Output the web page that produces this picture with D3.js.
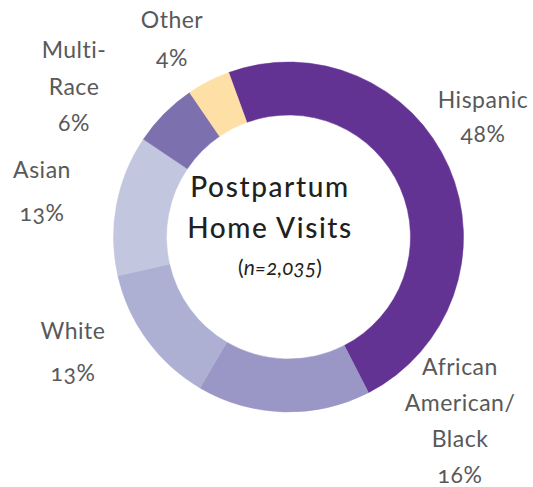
<!DOCTYPE html>
<html>
<head>
<meta charset="utf-8">
<script src="https://cdn.jsdelivr.net/npm/d3@7"></script>
<style>
  body { margin: 0; background: #fff; }
  .lbl { font-family: Lato, sans-serif; font-size: 23px; fill: #595959; font-variant-numeric: oldstyle-nums; letter-spacing: 0.5px; }
  .title { font-family: Lato, sans-serif; font-size: 28px; font-weight: 500; fill: #231f20; letter-spacing: 1.6px; }
  .sub { font-family: Lato, sans-serif; font-size: 21px; fill: #231f20; font-variant-numeric: oldstyle-nums; }
</style>
</head>
<body>
<div id="chart"></div>
<script>
// share of postpartum home visits by race / ethnicity

var categories = ['Hispanic', 'African American/Black', 'White', 'Asian', 'Multi-Race', 'Other']
var values = [48, 16, 13, 13, 6, 4]
var labelLines = [['Hispanic'], ['African', 'American/', 'Black'], ['White'], ['Asian'], ['Multi-', 'Race'], ['Other']]
var colors = ['#633393', '#9a97c7', '#adb0d3', '#c2c6de', '#7c70ae', '#fee0a6']

var width = 533,
    height = 487,
    cx = 288.5,
    cy = 237,
    outerR = 175,
    innerR = 122

// where each label block sits (x centre, first baseline, line gaps)
var labelPos = [
  {x: 483, y: 108, gaps: [34]},
  {x: 460, y: 375, gaps: [36, 36, 36]},
  {x: 73, y: 339, gaps: [42]},
  {x: 42, y: 178, gaps: [43]},
  {x: 74, y: 58, gaps: [37, 36]},
  {x: 172, y: 28, gaps: [38]}
]

var data = categories.map(function(c, i){
  return {name: c, value: values[i], lines: labelLines[i], color: colors[i]}
})

var startA = -20 * Math.PI / 180

var pie = d3.pie()
  .sort(null)
  .value(function(d){ return d.value })
  .startAngle(startA)
  .endAngle(startA + 2 * Math.PI)

var arc = d3.arc()
  .innerRadius(innerR)
  .outerRadius(outerR)

var svg = d3.select('#chart')
  .append('svg')
    .attr('width', width)
    .attr('height', height)

svg.append('g')
    .attr('transform', 'translate(' + cx + ',' + cy + ')')
  .selectAll('path').data(pie(data))
  .enter().append('path')
    .attr('d', arc)
    .attr('fill', function(d){ return d.data.color })
    .attr('stroke', function(d){ return d.data.color })
    .attr('stroke-width', 0.5)

data.forEach(function(d, i){
  var p = labelPos[i]
  var t = svg.append('text')
    .classed('lbl', true)
    .attr('text-anchor', 'middle')
    .attr('x', p.x)
    .attr('y', p.y)
  var rows = d.lines.concat([d.value + '%'])
  rows.forEach(function(r, j){
    t.append('tspan')
      .attr('x', p.x)
      .attr('dy', j === 0 ? 0 : p.gaps[j - 1])
      .text(r)
  })
})

svg.append('text')
  .classed('title', true)
  .attr('text-anchor', 'middle')
  .attr('x', 270)
  .attr('y', 197)
  .text('Postpartum')

svg.append('text')
  .classed('title', true)
  .attr('text-anchor', 'middle')
  .attr('x', 270)
  .attr('y', 238)
  .text('Home Visits')

var sub = svg.append('text')
  .classed('sub', true)
  .attr('text-anchor', 'middle')
  .attr('x', 280)
  .attr('y', 275)
sub.append('tspan').text('(')
sub.append('tspan').style('font-style', 'italic').text('n=2,035')
sub.append('tspan').text(')')
</script>
</body>
</html>
